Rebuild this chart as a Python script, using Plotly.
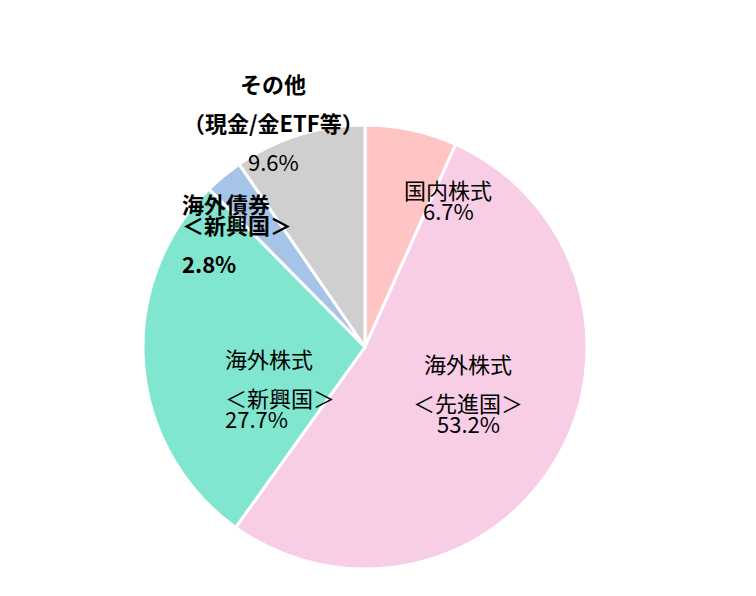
import plotly.graph_objects as go

labels = ["国内株式", "海外株式<br>＜先進国＞", "海外株式<br>＜新興国＞", "海外債券<br>＜新興国＞", "その他<br>（現金/金ETF等）"]
values = [6.7, 53.2, 27.7, 2.8, 9.6]
colors = ["#FFC4C4", "#F8CDE6", "#80E6D0", "#A6C4E8", "#D0CFCF"]

W, H = 756, 596
fig = go.Figure(go.Pie(
    labels=labels, values=values, sort=False, direction="clockwise", rotation=0,
    marker=dict(colors=colors, line=dict(color="white", width=3)),
    textinfo="none", hoverinfo="label+percent", showlegend=False,
    domain=dict(x=[135/W, 579/W], y=[1-561/H, 1-117/H]),
))

font = dict(family="Noto Sans CJK JP", size=22, color="black")
# (center x, first line y, bold)
pos = [(440, 163, False), (460, 355, False), (215, 350, False), (172, 177, True), (265, 57, True)]
for lab, v, (x, y, b) in zip(labels, values, pos):
    lines = lab.split("<br>") + [f"{v:.1f}%"]
    for i, ln in enumerate(lines):
        t = f"<b>{ln}</b>" if b and not ln.endswith("%") or (b and v < 5) else ln
        fig.add_annotation(x=x/W, y=1-(y + 39*i)/H, xref="paper", yref="paper", text=t,
                           showarrow=False, font=font, align="center")

fig.update_layout(width=W, height=H, margin=dict(l=0, r=0, t=0, b=0),
                  paper_bgcolor="white", plot_bgcolor="white")
fig.write_html("out.html")
